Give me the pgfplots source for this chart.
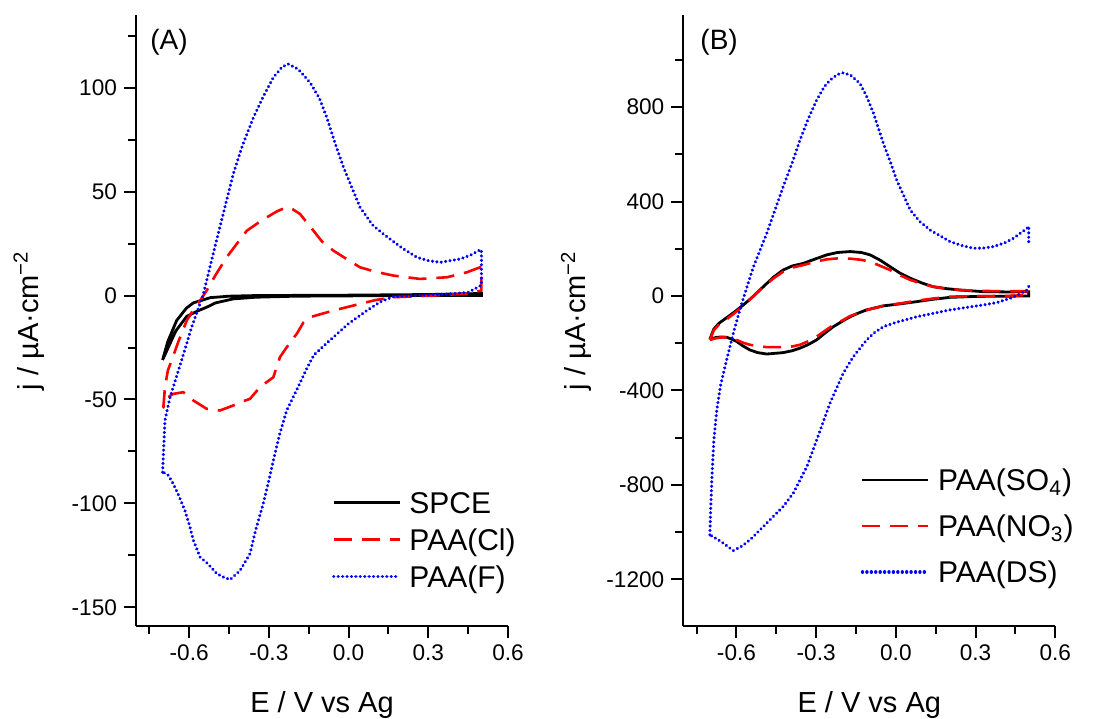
\documentclass[border=0pt]{standalone}
\usepackage{fontspec}
\setmainfont{Liberation Sans}
\usepackage{pgfplots}
\pgfplotsset{compat=1.18}
\definecolor{cvred}{RGB}{255,0,0}
\definecolor{cvblue}{RGB}{0,0,255}
\pgfplotsset{
 cvaxis/.style={
   scale only axis, width=186pt, height=305.5pt,
   axis lines*=left, axis line style={-, line width=1pt},
   xmin=-0.8, xmax=0.6,
   xtick={-0.6,-0.3,0,0.3,0.6},
   minor xtick={-0.75,-0.45,-0.15,0.15,0.45},
   tick align=outside, major tick length=6pt, minor tick length=4pt,
   every tick/.style={line width=1pt, black},
   /pgf/number format/assume math mode=true,
   /pgf/number format/1000 sep={},
   scaled ticks=false,
   xticklabel style={/pgf/number format/.cd, fixed, fixed zerofill, precision=1},
   tick label style={font=\fontsize{11.3}{13}\selectfont},
   label style={font=\fontsize{14.5}{17}\selectfont},
   xlabel={E / V vs Ag},
   ylabel={j / µA·cm\textsuperscript{−2}},
   xlabel style={at={(axis description cs:0.5,0)}, anchor=base, yshift=-43pt},
   ylabel style={at={(axis description cs:-0.263,0.5)}, anchor=base},
   legend cell align=left,
   legend style={draw=none, fill=none, inner sep=0pt, font=\fontsize{15}{18}\selectfont,
     nodes={inner sep=0pt, text height=10.7pt, text depth=0pt}, column sep=4pt},
   legend image code/.code={\draw[##1] (0pt,0pt) -- (33pt,0pt);},
   unbounded coords=jump,
 },
 blk/.style={black, line width=1.4pt},
 rdd/.style={cvred, line width=1.3pt, dash pattern=on 9pt off 5pt},
 bld/.style={cvblue, line width=1.7pt, line cap=round, dash pattern=on 0.01pt off 2.2pt},
}
\begin{document}
\begin{tikzpicture}
\useasboundingbox (-68pt,-46pt) rectangle (482.5pt,313pt);
\begin{axis}[cvaxis, at={(0pt,0pt)}, anchor=south west,
  ymin=-159, ymax=135,
  ytick={-150,-100,-50,0,50,100},
  minor ytick={-125,-75,-25,25,75,125},
  legend style={at={(0.526,0.22)}, anchor=north west, row sep=7.8pt}]
\addplot[blk] coordinates {
(-0.700,-31) (-0.68,-22) (-0.647,-12) (-0.61,-6) (-0.584,-3.5) (-0.52,-1) (-0.45,-0.3) (-0.35,0) (0.0,0.2) (0.3,0.5) (0.5,1)
(0.5,0) (0.2,0) (-0.2,-0.3) (-0.35,-0.8) (-0.434,-1.6) (-0.50,-3.5) (-0.534,-5.6) (-0.57,-7.5) (-0.609,-10) (-0.65,-17) (-0.700,-31)
};
\addlegendentry{SPCE}
\addplot[rdd] coordinates {
(-0.700,-54) (-0.697,-53.7) (-0.691,-44) (-0.680,-36) (-0.666,-31.2) (-0.64,-22) (-0.609,-12) (-0.58,-6) (-0.559,-2.4) (-0.534,2.4) (-0.50,10) (-0.459,18.4) (-0.42,25) (-0.383,31.2) (-0.34,35) (-0.308,37.6) (-0.27,40.5) (-0.233,42.5) (-0.21,41.5) (-0.183,39.3) (-0.132,31.2) (-0.10,26) (-0.057,21.6) (0.0,17) (0.043,13.6) (0.10,11.5) (0.169,9.6) (0.269,8) (0.37,8.8) (0.445,11.2) (0.495,13.6) (0.5,13.6)
(0.5,2.4) (0.45,1) (0.319,0) (0.169,-0.8) (0.10,-2.2) (0.043,-4) (-0.057,-7.2) (-0.145,-10.4) (-0.17,-13) (-0.195,-18.4) (-0.233,-24.9) (-0.258,-29.6) (-0.27,-34) (-0.283,-39.3) (-0.333,-44) (-0.371,-49.7) (-0.40,-51) (-0.434,-52.9) (-0.484,-55.3) (-0.534,-54.5) (-0.584,-50.5) (-0.622,-46.5) (-0.66,-47.3) (-0.68,-49) (-0.697,-53.7)
};
\addlegendentry{PAA(Cl)}
\addplot[bld] coordinates {
(-0.700,-85) (-0.691,-60) (-0.672,-49) (-0.650,-40) (-0.628,-31) (-0.590,-15) (-0.548,0) (-0.50,25) (-0.434,58.5) (-0.40,72) (-0.358,85.7) (-0.32,96) (-0.283,105) (-0.25,110) (-0.227,111.4) (-0.19,109) (-0.145,102.5) (-0.11,95) (-0.082,85.7) (-0.05,73) (-0.019,61.7) (0.043,42.5) (0.09,34) (0.131,29.6) (0.20,23) (0.257,18.4) (0.30,16.8) (0.345,16) (0.42,17.6) (0.46,19.5) (0.495,22) (0.5,22)
(0.5,5) (0.45,1.5) (0.382,0.8) (0.30,0.3) (0.25,0) (0.169,-0.5) (0.12,-3) (0.069,-7.2) (0.0,-13.5) (-0.057,-20) (-0.10,-25) (-0.13,-28.5) (-0.157,-35) (-0.19,-44) (-0.233,-55.3) (-0.26,-67) (-0.283,-79.3) (-0.30,-89) (-0.321,-100) (-0.35,-113) (-0.371,-124.2) (-0.408,-132.2) (-0.446,-136.7) (-0.47,-135.5) (-0.496,-133.8) (-0.53,-129) (-0.559,-125.8) (-0.584,-117.8) (-0.60,-110) (-0.616,-103.4) (-0.64,-96) (-0.66,-90.5) (-0.678,-86.5) (-0.697,-85) (-0.700,-84)
};
\addlegendentry{PAA(F)}
\node[anchor=west, inner sep=0pt, font=\fontsize{14}{17}\selectfont] at (rel axis cs:0.0376,0.956) {(A)};
\end{axis}
\begin{axis}[cvaxis, at={(273.65pt,0pt)}, anchor=south west,
  ymin=-1398, ymax=1190,
  ytick={-1200,-800,-400,0,400,800},
  minor ytick={-1000,-600,-200,200,600,1000},
  legend style={at={(0.476,0.257)}, anchor=north west, row sep=12.3pt}]
\addplot[blk] coordinates {
(-0.700,-183) (-0.685,-140) (-0.665,-115) (-0.649,-102) (-0.61,-70) (-0.574,-38) (-0.54,-5) (-0.499,39) (-0.46,80) (-0.424,110) (-0.39,127) (-0.348,138) (-0.30,158) (-0.26,174) (-0.22,184) (-0.172,188) (-0.13,184) (-0.097,174) (-0.06,152) (-0.022,124) (0.015,97) (0.054,75) (0.10,54) (0.141,39) (0.19,31) (0.242,25) (0.331,18) (0.42,17) (0.50,18)
(0.50,0) (0.42,-1) (0.30,-2) (0.204,-6) (0.14,-14) (0.079,-24) (0.02,-33) (-0.047,-42) (-0.11,-59) (-0.14,-72) (-0.172,-88) (-0.20,-106) (-0.235,-130) (-0.27,-160) (-0.298,-186) (-0.33,-206) (-0.361,-221) (-0.39,-232) (-0.424,-240) (-0.486,-246) (-0.52,-240) (-0.549,-229) (-0.575,-212) (-0.599,-193) (-0.62,-182) (-0.637,-175) (-0.655,-174) (-0.674,-175) (-0.700,-183)
};
\addlegendentry{PAA(SO\textsubscript{4})}
\addplot[rdd] coordinates {
(-0.700,-186) (-0.685,-145) (-0.665,-120) (-0.649,-110) (-0.61,-75) (-0.574,-42) (-0.54,-5) (-0.499,39) (-0.46,75) (-0.424,103) (-0.39,120) (-0.348,131) (-0.30,146) (-0.26,155) (-0.22,159) (-0.172,158) (-0.13,153) (-0.097,145) (-0.06,128) (-0.022,110) (0.015,88) (0.054,68) (0.10,51) (0.141,39) (0.19,31) (0.242,25) (0.331,21) (0.42,20) (0.50,20)
(0.50,4) (0.42,0) (0.30,-1) (0.204,-3) (0.14,-11) (0.079,-20) (0.02,-31) (-0.047,-42) (-0.11,-60) (-0.14,-72) (-0.172,-85) (-0.20,-103) (-0.235,-123) (-0.27,-150) (-0.298,-172) (-0.33,-192) (-0.361,-207) (-0.39,-214) (-0.424,-217) (-0.486,-217) (-0.549,-207) (-0.575,-198) (-0.60,-186) (-0.62,-178) (-0.637,-175) (-0.66,-176) (-0.68,-180) (-0.700,-186)
};
\addlegendentry{PAA(NO\textsubscript{3})}
\addplot[bld] coordinates {
(-0.700,-1012) (-0.697,-900) (-0.692,-760) (-0.685,-610) (-0.674,-483) (-0.660,-380) (-0.637,-271) (-0.61,-150) (-0.58,-31) (-0.536,124) (-0.486,265) (-0.45,380) (-0.424,463) (-0.39,565) (-0.361,660) (-0.33,750) (-0.298,830) (-0.27,885) (-0.248,914) (-0.22,938) (-0.198,945) (-0.17,935) (-0.135,900) (-0.11,845) (-0.084,773) (-0.047,646) (-0.02,565) (0.003,491) (0.054,364) (0.09,315) (0.129,279) (0.204,230) (0.25,213) (0.292,202) (0.33,203) (0.367,209) (0.41,225) (0.442,244) (0.493,286) (0.50,295) (0.50,216)
(0.50,nan)
(0.50,40) (0.493,25) (0.46,5) (0.43,-10) (0.38,-28) (0.33,-38) (0.204,-59) (0.079,-88) (0.0,-112) (-0.047,-130) (-0.08,-155) (-0.11,-186) (-0.16,-257) (-0.198,-327) (-0.248,-454) (-0.298,-610) (-0.335,-723) (-0.386,-835) (-0.424,-892) (-0.486,-962) (-0.549,-1033) (-0.58,-1060) (-0.612,-1079) (-0.64,-1055) (-0.668,-1033) (-0.700,-1012)
};
\addlegendentry{PAA(DS)}
\node[anchor=west, inner sep=0pt, font=\fontsize{14}{17}\selectfont] at (rel axis cs:0.045,0.956) {(B)};
\end{axis}
\end{tikzpicture}
\end{document}
